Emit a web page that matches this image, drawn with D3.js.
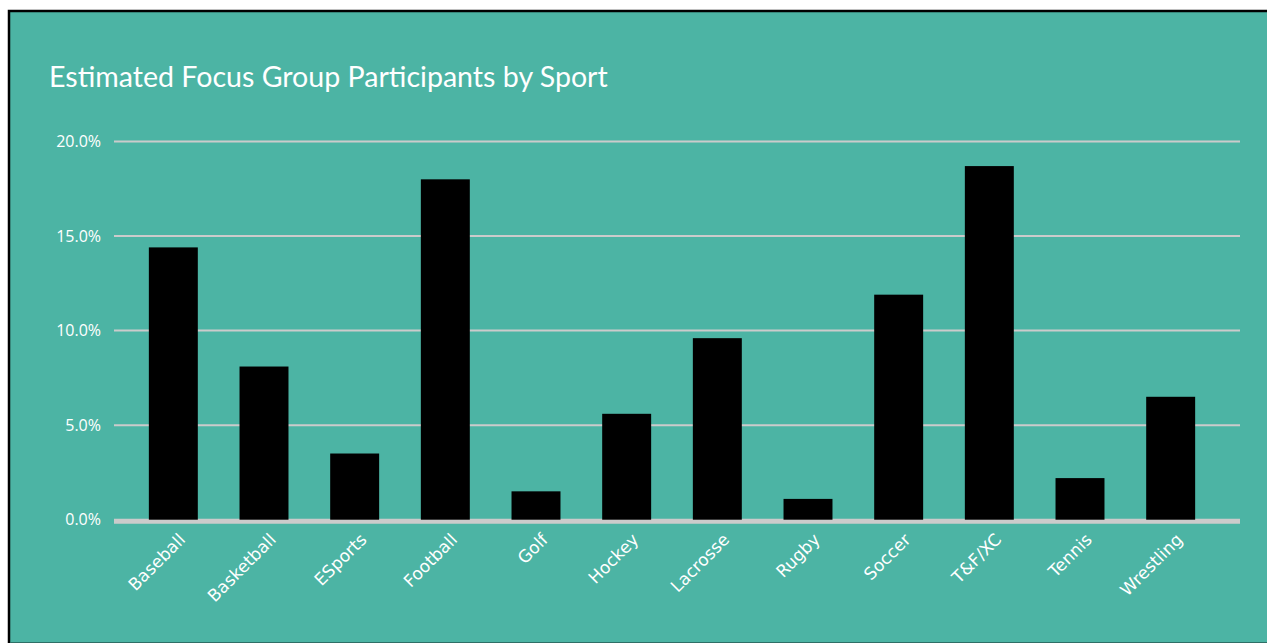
<!DOCTYPE html>
<html>
<head>
<meta charset="utf-8">
<script src="https://cdn.jsdelivr.net/npm/d3@7/dist/d3.min.js"></script>
<style>
  html, body { margin: 0; padding: 0; background: #fff; }
  svg { display: block; }
  text { font-family: Lato, "Open Sans", sans-serif; fill: #fff; }
</style>
</head>
<body>
<div id="chart"></div>
<script>
// data
const sports = ['Baseball', 'Basketball', 'ESports', 'Football', 'Golf', 'Hockey',
                'Lacrosse', 'Rugby', 'Soccer', 'T&F/XC', 'Tennis', 'Wrestling'];
const shares = [14.4, 8.1, 3.5, 18.0, 1.5, 5.6, 9.6, 1.1, 11.9, 18.7, 2.2, 6.5];
const yTicks = [0, 5, 10, 15, 20];
const chartTitle = 'Estimated Focus Group Participants by Sport';

const W = 1267, H = 643;
const svg = d3.select('#chart').append('svg')
    .attr('width', W)
    .attr('height', H);

// panel
svg.append('rect')
    .attr('x', 9).attr('y', 11)
    .attr('width', 1300).attr('height', 640)
    .attr('fill', '#4cb4a4')
    .attr('stroke', '#000')
    .attr('stroke-width', 2.5);
// thin darker edge at the bottom
svg.append('line')
    .attr('x1', 10).attr('x2', W)
    .attr('y1', 642.5).attr('y2', 642.5)
    .attr('stroke', '#2f6f66')
    .attr('stroke-width', 1);

const title = svg.append('text')
    .attr('x', 49).attr('y', 87)
    .style('font-size', '25px')
    .text(chartTitle);
// fit title to the width seen in the reference
let tl = title.node().getComputedTextLength();
title.style('font-size', (25 * 559 / tl) + 'px');

const gridLeft = 114, gridRight = 1240;
const x = d3.scaleBand().domain(sports).range([128, 1216]).paddingInner(0.46).paddingOuter(0.23);
const y = d3.scaleLinear().domain([0, 20]).range([519.7, 141.5]);

// gridlines
svg.append('g').selectAll('line')
    .data(yTicks.filter(d => d > 0))
    .join('line')
    .attr('x1', gridLeft).attr('x2', gridRight)
    .attr('y1', d => y(d)).attr('y2', d => y(d))
    .attr('stroke', '#cbcbcb')
    .attr('stroke-width', 2);

// zero line (thicker)
svg.append('line')
    .attr('x1', gridLeft).attr('x2', gridRight)
    .attr('y1', y(0) + 1.5).attr('y2', y(0) + 1.5)
    .attr('stroke', '#cbcbcb')
    .attr('stroke-width', 5);

// y axis labels
const yAxis = svg.append('g')
    .attr('transform', 'translate(101,0)')
    .call(d3.axisLeft(y).tickValues(yTicks).tickSize(0).tickPadding(0)
        .tickFormat(d => d3.format('.1f')(d) + '%'));
yAxis.select('.domain').remove();
yAxis.selectAll('text')
    .style('font-family', '"Open Sans", sans-serif')
    .style('font-size', '16px')
    .attr('fill', '#fff');

// bars
svg.append('g').selectAll('rect')
    .data(sports)
    .join('rect')
    .attr('x', d => x(d))
    .attr('y', (d, i) => y(shares[i]))
    .attr('width', x.bandwidth())
    .attr('height', (d, i) => y(0) - y(shares[i]))
    .attr('fill', '#000');

// x labels, rotated
const xAxis = svg.append('g')
    .attr('transform', `translate(0,${y(0)})`)
    .call(d3.axisBottom(x).tickSize(0).tickPadding(0));
xAxis.select('.domain').remove();
xAxis.selectAll('text')
    .style('font-family', '"DejaVu Sans", sans-serif')
    .style('font-size', '17px')
    .attr('fill', '#fff')
    .attr('text-anchor', 'end')
    .attr('dy', null)
    .attr('y', null)
    .attr('transform', 'translate(13,21) rotate(-45)');
</script>
</body>
</html>
